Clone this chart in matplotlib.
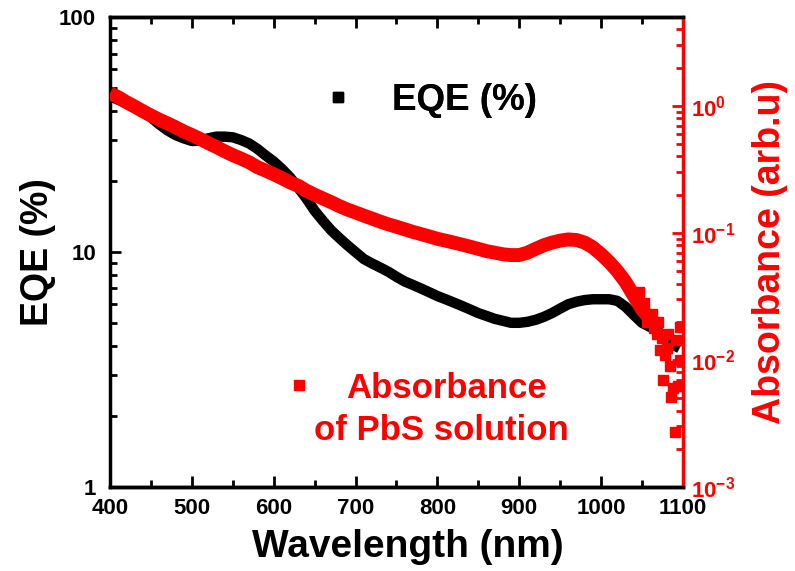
import math
import matplotlib
matplotlib.use("Agg")
import matplotlib.pyplot as plt
from matplotlib.ticker import LogLocator, FixedLocator, FuncFormatter, NullFormatter
from matplotlib.lines import Line2D

plt.rcParams['font.family'] = ['Liberation Sans', 'DejaVu Sans']
plt.rcParams['font.weight'] = 'bold'
plt.rcParams['mathtext.fontset'] = 'custom'
plt.rcParams['mathtext.rm'] = 'Liberation Sans:bold'
plt.rcParams['mathtext.bf'] = 'Liberation Sans:bold'
plt.rcParams['mathtext.it'] = 'Liberation Sans:bold'

# ---- data ----
wl_eqe = [400, 410, 420, 430, 440, 450, 460, 470, 480, 490,
          500, 510, 520, 530, 540, 550, 560, 570, 580, 590,
          600, 610, 620, 630, 640, 650, 660, 670, 680, 690,
          700, 710, 720, 730, 740, 750, 760, 770, 780, 790,
          800, 810, 820, 830, 840, 850, 860, 870, 880, 890,
          900, 910, 920, 930, 940, 950, 960, 970, 980, 990,
          1000, 1010, 1020, 1030, 1040, 1050, 1060, 1070, 1080, 1090, 1096]
eqe = [46.0, 44.5, 43.0, 41.5, 39.5, 37.5, 35.0, 33.0, 31.5, 30.5,
       29.7, 29.8, 30.5, 31.0, 31.0, 30.8, 30.0, 29.0, 27.5, 25.8,
       24.3, 22.6, 20.8, 18.8, 16.9, 15.0, 13.6, 12.4, 11.5, 10.7,
       10.0, 9.35, 8.95, 8.6, 8.25, 7.85, 7.5, 7.25, 7.0, 6.75,
       6.5, 6.3, 6.1, 5.9, 5.7, 5.5, 5.35, 5.2, 5.1, 5.0,
       5.0, 5.05, 5.15, 5.3, 5.5, 5.75, 6.0, 6.15, 6.25, 6.3,
       6.3, 6.3, 6.2, 5.85, 5.4, 5.0, 4.8, 4.6, 4.3, 4.0, 3.9]

wl_abs = [400, 410, 420, 430, 440, 450, 460, 470, 480, 490,
          500, 510, 520, 530, 540, 550, 560, 570, 580, 590,
          600, 610, 620, 630, 640, 650, 660, 670, 680, 690,
          700, 710, 720, 730, 740, 750, 760, 770, 780, 790,
          800, 810, 820, 830, 840, 850, 860, 870, 880, 890,
          900, 910, 920, 930, 940, 950, 960, 970, 980, 990,
          1000, 1010, 1020, 1030, 1040, 1050, 1060]
absorb = [1.26, 1.17, 1.07, 0.99, 0.91, 0.84, 0.78, 0.73, 0.68, 0.63,
          0.59, 0.55, 0.51, 0.475, 0.44, 0.41, 0.385, 0.36, 0.33, 0.31,
          0.29, 0.27, 0.25, 0.235, 0.215, 0.20, 0.187, 0.175, 0.163, 0.153,
          0.145, 0.137, 0.130, 0.123, 0.117, 0.112, 0.107, 0.102, 0.098, 0.094,
          0.090, 0.087, 0.084, 0.081, 0.078, 0.075, 0.072, 0.070, 0.068, 0.067,
          0.067, 0.070, 0.075, 0.080, 0.084, 0.087, 0.089, 0.088, 0.084, 0.077,
          0.068, 0.059, 0.050, 0.041, 0.032, 0.025, 0.021]

# scattered tail of absorbance
wl_abs_tail = [1046, 1052, 1056, 1062, 1065, 1068, 1070, 1072, 1074, 1076, 1078, 1080, 1082,
               1084, 1086, 1088, 1090, 1092, 1094, 1096, 1097]
abs_tail = [0.034, 0.028, 0.020, 0.023, 0.018, 0.016, 0.020, 0.012, 0.015, 0.007, 0.011, 0.0125, 0.016,
            0.009, 0.0051, 0.006, 0.0027, 0.0144, 0.0062, 0.0183, 0.010]

eqe_label = "EQE (%)"
abs_label = "Absorbance"
abs_label2 = "of PbS solution"
xlabel = "Wavelength (nm)"
ylabel_left = "EQE (%)"
ylabel_right = "Absorbance (arb.u)"
xticks = [400, 500, 600, 700, 800, 900, 1000, 1100]

RED = '#ff0000'

fig = plt.figure(figsize=(7.95, 5.71), dpi=100)
fig.subplots_adjust(left=0.1384, right=0.859, bottom=0.147, top=0.970)
ax = fig.add_subplot(111)
ax2 = ax.twinx()

# EQE (black)
ax.plot(wl_eqe, eqe, color='black', lw=7.5, solid_capstyle='butt', solid_joinstyle='round', zorder=2)
ax.set_yscale('log')
ax.set_ylim(1, 100)
ax.set_xlim(400, 1100)

# Absorbance (red)
ax2.plot(wl_abs, absorb, color=RED, lw=10, solid_capstyle='butt', solid_joinstyle='round', zorder=3)
ax2.plot(wl_abs_tail, abs_tail, color=RED, lw=0, marker='s', ms=7, zorder=3)
ax2.set_yscale('log')
ax2.set_ylim(1e-3, 5)

# draw red above black
ax.set_zorder(1)
ax2.set_zorder(2)
ax2.patch.set_visible(False)

# x axis
ax.xaxis.set_major_locator(FixedLocator(xticks))
ax.xaxis.set_minor_locator(FixedLocator(list(range(450, 1100, 100))))
ax.tick_params(axis='x', which='both', direction='in', top=True, width=2, labelsize=16, pad=8)
ax.tick_params(axis='x', which='major', length=8)
ax.tick_params(axis='x', which='minor', length=5)

# left y axis
ax.yaxis.set_major_locator(LogLocator(base=10, numticks=10))
ax.yaxis.set_minor_locator(LogLocator(base=10, subs=range(2, 10), numticks=10))
ax.yaxis.set_minor_formatter(NullFormatter())
ax.yaxis.set_major_formatter(FuncFormatter(lambda v, p: f"{v:g}"))
ax.tick_params(axis='y', which='both', direction='in', width=2, labelsize=16, right=False, pad=10)
ax.tick_params(axis='y', which='major', length=8)
ax.tick_params(axis='y', which='minor', length=5)

# right y axis
ax2.yaxis.set_major_locator(LogLocator(base=10, numticks=10))
ax2.yaxis.set_minor_locator(LogLocator(base=10, subs=range(2, 10), numticks=10))
ax2.yaxis.set_minor_formatter(NullFormatter())


def pow_fmt(v, p):
    e = int(round(math.log10(v)))
    return r"$\mathbf{10^{%d}}$" % e


ax2.yaxis.set_major_formatter(FuncFormatter(pow_fmt))
ax2.tick_params(axis='y', which='both', direction='in', width=2, colors=RED, labelsize=16, pad=6)
ax2.tick_params(axis='y', which='major', length=8)
ax2.tick_params(axis='y', which='minor', length=5)

for s in ['left', 'bottom', 'top']:
    ax.spines[s].set_linewidth(2.5)
    ax2.spines[s].set_linewidth(2.5)
ax2.spines['right'].set_linewidth(2.5)
ax2.spines['right'].set_color(RED)
ax.spines['right'].set_visible(False)
ax2.spines['left'].set_visible(False)

ax.set_xlabel(xlabel, fontsize=28, fontweight='bold')
ax.xaxis.set_label_coords(0.52, -0.09)
ax.set_ylabel(ylabel_left, fontsize=27, fontweight='bold', labelpad=2)
ax2.set_ylabel(ylabel_right, fontsize=27, fontweight='bold', color=RED, labelpad=12)

for lab in ax.get_xticklabels() + ax.get_yticklabels():
    lab.set_fontweight('bold')

# legends
h1 = Line2D([], [], color='black', marker='s', ls='none', ms=7)
leg1 = ax.legend([h1], [eqe_label], loc='center left', bbox_to_anchor=(320 / 795, 1 - 100 / 571),
                 bbox_transform=fig.transFigure, frameon=False, fontsize=26.5,
                 handlelength=1.0, handletextpad=0.95, borderpad=0, borderaxespad=0)
for t in leg1.get_texts():
    t.set_fontweight('bold')
ax.add_artist(leg1)

h2 = Line2D([], [], color=RED, marker='s', ls='none', ms=7)
leg2 = ax2.legend([h2], [abs_label], loc='center left', bbox_to_anchor=(282 / 795, 1 - 388 / 571),
                  bbox_transform=fig.transFigure, frameon=False, fontsize=25,
                  handlelength=1.0, handletextpad=0.85, borderpad=0, borderaxespad=0)
for t in leg2.get_texts():
    t.set_fontweight('bold')
    t.set_color(RED)

fig.text(441 / 795, 1 - 430 / 571, abs_label2, color=RED, fontsize=25, fontweight='bold',
         ha='center', va='center')

fig.savefig('out.png', dpi=100)
